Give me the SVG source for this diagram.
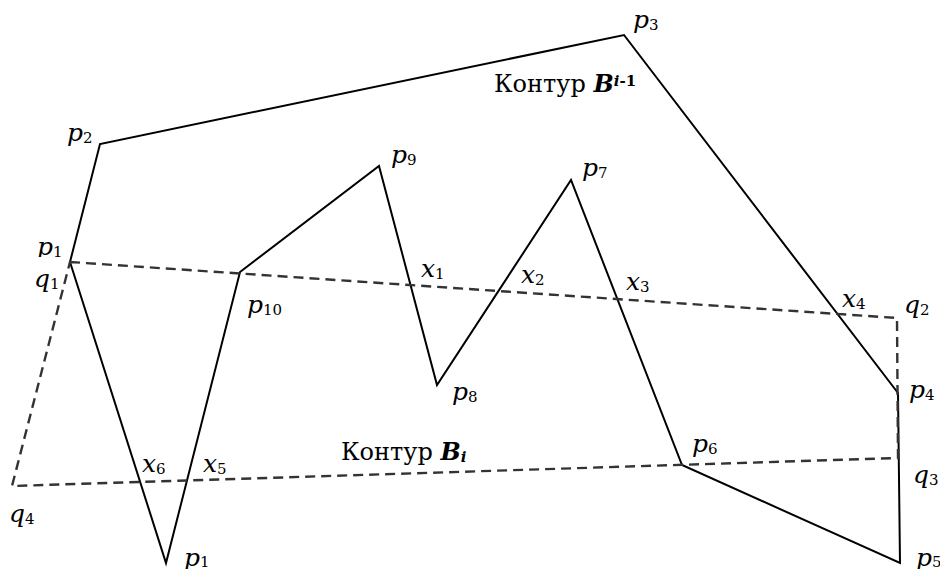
<svg xmlns="http://www.w3.org/2000/svg" width="940" height="569" viewBox="0 0 940 569">
<style>
.solid{fill:none;stroke:#000;stroke-width:2;stroke-linejoin:miter}
.dash{fill:none;stroke:#333;stroke-width:2.4;stroke-dasharray:10 6}
.it{font-style:italic}
.sub{font-size:15px;font-style:normal}
.bi{font-style:italic;font-weight:bold}
.cap{font-size:24px}
</style>
<defs>
<clipPath id="clipP1"><rect x="0" y="0" width="120" height="257"/></clipPath>
</defs>
<rect width="940" height="569" fill="#fff"/>
<g id="connectors">
<polygon id="contour-Bi-1" class="solid" points="70,262 100,144 624,35 898,393 900,563 682,465 571,180 437,385 379,166 240,272 166,563"/>
<polygon id="contour-Bi" class="dash" points="70,262 897,318 898,458 12,486"/>
</g>
<g id="labels" font-family="DejaVu Serif, Liberation Serif, serif" font-size="25" fill="#000">
<text id="lbl-p3" x="633" y="28"><tspan class="it">p</tspan><tspan class="sub" dy="2">3</tspan></text>
<text id="lbl-p2" x="67" y="141"><tspan class="it">p</tspan><tspan class="sub" dy="2">2</tspan></text>
<text id="lbl-p1top" x="37" y="255" clip-path="url(#clipP1)"><tspan class="it">p</tspan><tspan class="sub" dy="2">1</tspan></text>
<text id="lbl-q1" x="34" y="287"><tspan class="it">q</tspan><tspan class="sub" dy="2">1</tspan></text>
<text id="lbl-p10" x="247" y="313"><tspan class="it">p</tspan><tspan class="sub" dy="2">10</tspan></text>
<text id="lbl-p9" x="391" y="163"><tspan class="it">p</tspan><tspan class="sub" dy="2">9</tspan></text>
<text id="lbl-p7" x="582" y="176"><tspan class="it">p</tspan><tspan class="sub" dy="2">7</tspan></text>
<text id="lbl-p8" x="452" y="400"><tspan class="it">p</tspan><tspan class="sub" dy="2">8</tspan></text>
<text id="lbl-x1" x="421" y="277"><tspan class="it">x</tspan><tspan class="sub" dy="2">1</tspan></text>
<text id="lbl-x2" x="521" y="283"><tspan class="it">x</tspan><tspan class="sub" dy="2">2</tspan></text>
<text id="lbl-x3" x="626" y="290"><tspan class="it">x</tspan><tspan class="sub" dy="2">3</tspan></text>
<text id="lbl-x4" x="842" y="307"><tspan class="it">x</tspan><tspan class="sub" dy="2">4</tspan></text>
<text id="lbl-q2" x="904" y="313"><tspan class="it">q</tspan><tspan class="sub" dy="2">2</tspan></text>
<text id="lbl-p4" x="909" y="398"><tspan class="it">p</tspan><tspan class="sub" dy="2">4</tspan></text>
<text id="lbl-q3" x="913" y="483"><tspan class="it">q</tspan><tspan class="sub" dy="2">3</tspan></text>
<text id="lbl-p5" x="916" y="566"><tspan class="it">p</tspan><tspan class="sub" dy="1">5</tspan></text>
<text id="lbl-p6" x="692" y="452"><tspan class="it">p</tspan><tspan class="sub" dy="2">6</tspan></text>
<text id="lbl-x6" x="142" y="472"><tspan class="it">x</tspan><tspan class="sub" dy="2">6</tspan></text>
<text id="lbl-x5" x="203" y="472"><tspan class="it">x</tspan><tspan class="sub" dy="2">5</tspan></text>
<text id="lbl-q4" x="9" y="522"><tspan class="it">q</tspan><tspan class="sub" dy="2">4</tspan></text>
<text id="lbl-p1" x="184" y="566"><tspan class="it">p</tspan><tspan class="sub" dy="1">1</tspan></text>
<text id="lbl-Bi-1" class="cap" x="494" y="92">Контур <tspan class="bi">B</tspan><tspan class="bi" font-size="15" dy="-6">i</tspan><tspan font-size="15" font-weight="bold">-1</tspan></text>
<text id="lbl-Bi" class="cap" x="341" y="460">Контур <tspan class="bi">B</tspan><tspan class="bi" font-size="15" dy="2">i</tspan></text>
</g>
</svg>
